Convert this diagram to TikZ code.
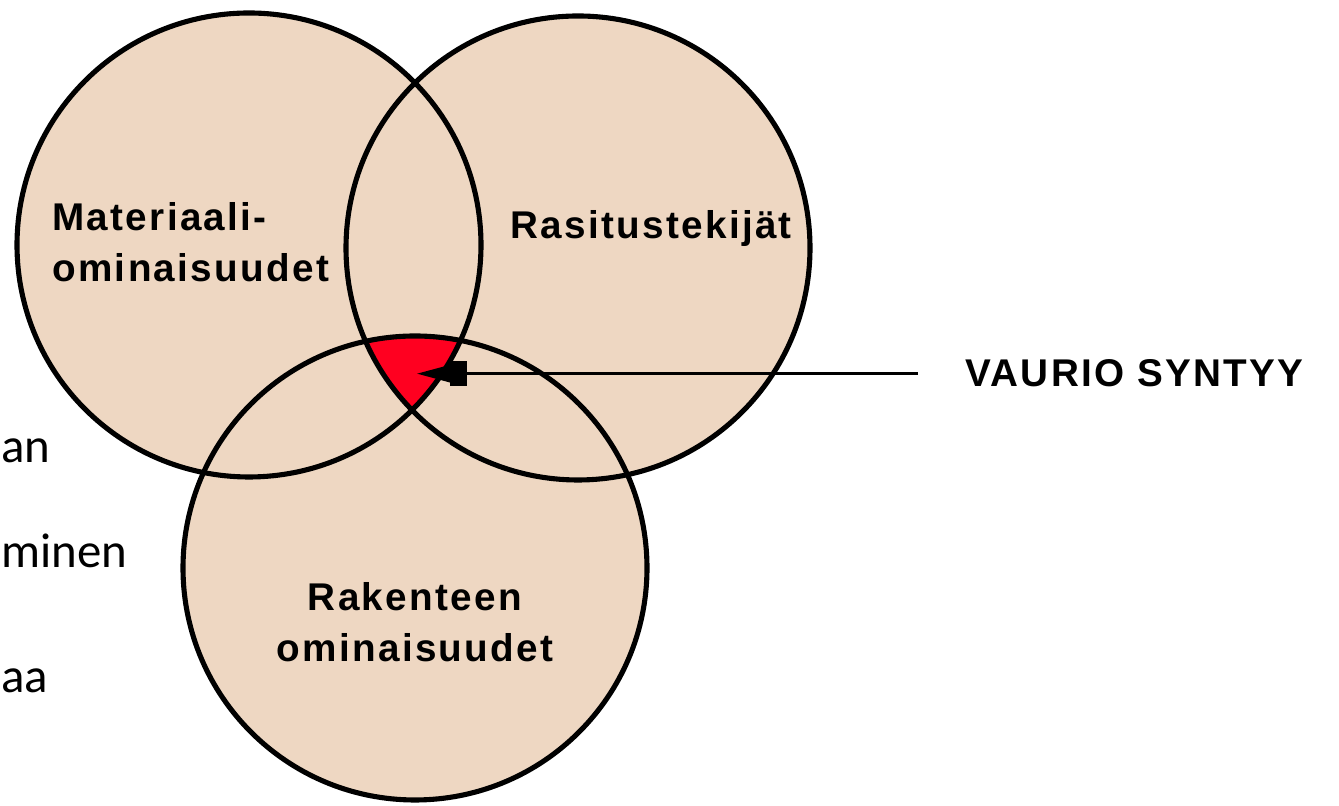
\documentclass[tikz,border=0pt]{standalone}
\usepackage{fontspec}
\usetikzlibrary{arrows.meta}
\newfontfamily\vennfont[LetterSpace=6]{Liberation Sans}
\newfontfamily\slidefont{Carlito}
\definecolor{beige}{RGB}{238,215,194}
\definecolor{vaurio}{RGB}{255,0,32}

\begin{document}
\begin{tikzpicture}
\useasboundingbox (0,0) rectangle (26.78,16.12);
\clip (0,0) rectangle (26.78,16.12);
%\tikzstyle{ring}=[line width=2.9pt]
% leftover text of the slide behind
\begin{scope}[every node/.style={anchor=base west,inner sep=0pt,font=\slidefont\fontsize{27.8}{30}\selectfont}]
    \node (s1) at (0.02,6.86) {an};
    \node (s2) at (0.02,4.76) {minen};
    \node (s3) at (0.02,2.26) {aa};
\end{scope}
    \coordinate (M) at (4.98,11.22);
    \coordinate (R) at (11.56,11.16);
    \coordinate (K) at (8.30,4.76);
    \foreach \c in {M,R,K}
        \fill [beige] (\c) circle (4.64);
\begin{scope}
    \clip (M) circle (4.64);
    \clip (R) circle (4.64);
    \fill [vaurio] (K) circle (4.64);
\end{scope}
    \foreach \c in {M,R,K}
        \draw [line width=2.9pt] (\c) circle (4.64);
\begin{scope}[every node/.style={inner sep=0pt,font=\vennfont\bfseries\fontsize{22}{29.5}\selectfont}]
    \node [anchor=base west,align=left] (mat) at (1.04,10.48) {Materiaali-\\ominaisuudet};
    \node [anchor=base west] (ras) at (10.20,11.34) {Rasitustekijät};
    \node [anchor=base,align=center] (rak) at (8.30,2.88) {Rakenteen\\ominaisuudet};
    \node [anchor=base west] (vau) at (19.30,8.38) {VAURIO SYNTYY};
\end{scope}
    \coordinate (vtip) at (8.34,8.68);
    \draw [line width=1.4pt, shorten <=0.94cm, -{Rectangle[length=0.34cm,width=0.5cm]Triangle[length=0.66cm,width=0.34cm]}] (vau.west) -- (vau.west -| vtip);
\end{tikzpicture}
\end{document}
